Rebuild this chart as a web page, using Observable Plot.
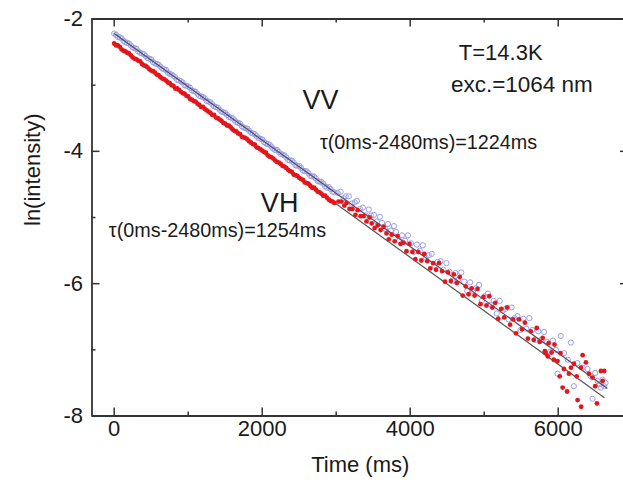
<!DOCTYPE html>
<html><head><meta charset="utf-8">
<script src="https://cdn.jsdelivr.net/npm/d3@7"></script>
<script src="https://cdn.jsdelivr.net/npm/@observablehq/plot@0.6"></script>
<style>html,body{margin:0;padding:0;background:#fff;overflow:hidden}</style>
</head><body><div id="chart"></div>
<script>
// VH (red filled dots): [time ms, ln(intensity)]
const vhEarly = [
[0,-2.37],[25,-2.40],[50,-2.40],[75,-2.42],[100,-2.46],[125,-2.48],[150,-2.49],[175,-2.51],[200,-2.52],[225,-2.55],[250,-2.58],[275,-2.60],
[300,-2.61],[325,-2.63],[350,-2.64],[375,-2.68],[400,-2.70],[425,-2.71],[450,-2.73],[475,-2.76],[500,-2.78],[525,-2.79],[550,-2.81],[575,-2.84],
[600,-2.85],[625,-2.88],[650,-2.90],[675,-2.91],[700,-2.93],[725,-2.96],[750,-2.97],[775,-3.00],[800,-3.01],[825,-3.05],[850,-3.05],[875,-3.07],
[900,-3.10],[925,-3.12],[950,-3.13],[975,-3.16],[1000,-3.17],[1025,-3.21],[1050,-3.22],[1075,-3.24],[1100,-3.25],[1125,-3.28],[1150,-3.30],[1175,-3.33],
[1200,-3.33],[1225,-3.36],[1250,-3.38],[1275,-3.40],[1300,-3.42],[1325,-3.45],[1350,-3.45],[1375,-3.49],[1400,-3.50],[1425,-3.52],[1450,-3.54],[1475,-3.57],
[1500,-3.58],[1525,-3.61],[1550,-3.61],[1575,-3.64],[1600,-3.67],[1625,-3.69],[1650,-3.70],[1675,-3.73],[1700,-3.74],[1725,-3.78],[1750,-3.79],[1775,-3.80],
[1800,-3.82],[1825,-3.85],[1850,-3.87],[1875,-3.89],[1900,-3.90],[1925,-3.94],[1950,-3.95],[1975,-3.97],[2000,-3.99],[2025,-4.01],[2050,-4.02],[2075,-4.06],
[2100,-4.08],[2125,-4.09],[2150,-4.11],[2175,-4.14],[2200,-4.16],[2225,-4.17],[2250,-4.19],[2275,-4.22],[2300,-4.23],[2325,-4.25],[2350,-4.28],[2375,-4.30],
[2400,-4.31],[2425,-4.35],[2450,-4.36],[2475,-4.37],[2500,-4.40],[2525,-4.42],[2550,-4.43],[2575,-4.47],[2600,-4.48],[2625,-4.49],[2650,-4.52],[2675,-4.55],
[2700,-4.55],[2725,-4.58],[2750,-4.61],[2775,-4.62],[2800,-4.64],[2825,-4.67],[2850,-4.67],[2875,-4.70],[2900,-4.73],[2925,-4.75],[2950,-4.76],[2975,-4.78]
];
const vhLate = [
[3030,-4.76],[3070,-4.76],[3110,-4.82],[3140,-4.78],[3180,-4.87],[3220,-4.87],[3260,-4.96],[3290,-4.89],[3330,-4.98],[3370,-4.98],
[3410,-5.06],[3450,-5.00],[3480,-5.09],[3520,-5.16],[3560,-5.12],[3600,-5.19],[3640,-5.14],[3680,-5.24],[3710,-5.33],[3750,-5.26],
[3790,-5.36],[3830,-5.28],[3870,-5.40],[3910,-5.38],[3950,-5.51],[3990,-5.40],[4030,-5.52],[4070,-5.63],[4110,-5.52],[4150,-5.65],
[4190,-5.55],[4230,-5.66],[4270,-5.77],[4310,-5.69],[4350,-5.79],[4390,-5.69],[4430,-5.81],[4470,-5.97],[4510,-5.83],[4550,-5.96],
[4590,-5.86],[4630,-5.99],[4670,-5.90],[4710,-6.18],[4750,-6.04],[4790,-6.16],[4830,-6.07],[4870,-6.18],[4910,-6.08],[4950,-6.31],
[4990,-6.20],[5030,-6.33],[5070,-6.19],[5110,-6.36],[5150,-6.29],[5190,-6.53],[5230,-6.38],[5270,-6.51],[5310,-6.36],[5350,-6.62],
[5390,-6.54],[5430,-6.75],[5470,-6.54],[5510,-6.69],[5550,-6.59],[5590,-6.83],[5630,-6.72],[5670,-6.85],[5710,-6.67],[5750,-6.88],
[5790,-6.82],[5820,-7.02],[5830,-7.05],[5860,-7.10],[5870,-6.90],[5910,-7.04],[5940,-7.15],[5950,-6.92],
[5991,-7.17],[6020,-7.40],[6030,-7.05],[6060,-7.57],[6077,-7.29],[6120,-7.63],[6145,-7.36],[6172,-7.27],[6212,-7.21],[6250,-7.40],
[6262,-7.76],[6307,-7.27],[6310,-7.86],[6330,-7.08],[6374,-7.19],[6415,-7.36],[6464,-7.42],[6500,-7.55],[6523,-7.81],[6577,-7.32],
[6600,-7.47],[6622,-7.32]
];
// VV (blue open circles): [time ms, ln(intensity)]
const vvEarly = [
[0,-2.22],[25,-2.24],[50,-2.27],[75,-2.28],[100,-2.29],[125,-2.33],[150,-2.35],[175,-2.36],[200,-2.37],[225,-2.40],[250,-2.43],[275,-2.44],
[300,-2.45],[325,-2.49],[350,-2.51],[375,-2.52],[400,-2.53],[425,-2.56],[450,-2.59],[475,-2.60],[500,-2.61],[525,-2.65],[550,-2.67],[575,-2.68],
[600,-2.69],[625,-2.72],[650,-2.75],[675,-2.76],[700,-2.77],[725,-2.81],[750,-2.83],[775,-2.84],[800,-2.86],[825,-2.88],[850,-2.92],[875,-2.93],
[900,-2.94],[925,-2.96],[950,-3.00],[975,-3.01],[1000,-3.02],[1025,-3.04],[1050,-3.08],[1075,-3.09],[1100,-3.10],[1125,-3.13],[1150,-3.16],[1175,-3.17],
[1200,-3.18],[1225,-3.20],[1250,-3.24],[1275,-3.25],[1300,-3.26],[1325,-3.29],[1350,-3.32],[1375,-3.33],[1400,-3.34],[1425,-3.37],[1450,-3.40],[1475,-3.41],
[1500,-3.42],[1525,-3.45],[1550,-3.48],[1575,-3.49],[1600,-3.50],[1625,-3.53],[1650,-3.56],[1675,-3.57],[1700,-3.58],[1725,-3.62],[1750,-3.64],[1775,-3.65],
[1800,-3.66],[1825,-3.69],[1850,-3.72],[1875,-3.73],[1900,-3.74],[1925,-3.77],[1950,-3.80],[1975,-3.81],[2000,-3.82],[2025,-3.86],[2050,-3.88],[2075,-3.89],
[2100,-3.90],[2125,-3.93],[2150,-3.96],[2175,-3.98],[2200,-3.98],[2225,-4.01],[2250,-4.04],[2275,-4.05],[2300,-4.06],[2325,-4.09],[2350,-4.13],[2375,-4.14],
[2400,-4.14],[2425,-4.17],[2450,-4.21],[2475,-4.22],[2500,-4.22],[2525,-4.25],[2550,-4.29],[2575,-4.30],[2600,-4.30],[2625,-4.33],[2650,-4.37],[2675,-4.38],
[2700,-4.38],[2725,-4.41],[2750,-4.45],[2775,-4.46],[2800,-4.46],[2825,-4.49],[2850,-4.53],[2875,-4.55],[2900,-4.54],[2925,-4.57],[2950,-4.61],[2975,-4.62]
];
const vvLate = [
[3020,-4.63],[3060,-4.61],[3100,-4.71],[3130,-4.68],[3170,-4.68],[3210,-4.79],[3250,-4.77],[3280,-4.75],[3320,-4.87],[3360,-4.85],
[3400,-4.97],[3440,-4.88],[3470,-4.97],[3510,-4.96],[3550,-5.06],[3590,-4.99],[3620,-5.08],[3660,-5.17],[3700,-5.10],[3740,-5.20],
[3780,-5.13],[3810,-5.22],[3850,-5.35],[3890,-5.27],[3930,-5.35],[3970,-5.27],[4010,-5.39],[4050,-5.52],[4090,-5.41],[4130,-5.50],
[4170,-5.42],[4210,-5.61],[4250,-5.57],[4290,-5.55],[4330,-5.73],[4370,-5.67],[4410,-5.66],[4450,-5.79],[4490,-5.69],[4530,-5.82],
[4570,-5.96],[4610,-5.84],[4650,-5.94],[4690,-5.83],[4730,-5.97],[4770,-6.11],[4810,-5.98],[4850,-6.11],[4890,-6.07],[4930,-6.02],
[4970,-6.26],[5010,-6.19],[5050,-6.15],[5090,-6.32],[5130,-6.26],[5170,-6.45],[5210,-6.26],[5250,-6.41],[5290,-6.38],[5330,-6.54],
[5370,-6.36],[5410,-6.52],[5450,-6.49],[5490,-6.70],[5530,-6.53],[5570,-6.68],[5610,-6.52],[5650,-6.70],[5690,-6.85],[5730,-6.72],
[5770,-6.85],[5810,-6.73],[5850,-6.88],[5890,-7.03],[5930,-6.86],[5970,-7.00],
[5991,-7.36],[6034,-6.79],[6080,-7.05],[6130,-7.15],[6171,-6.89],[6212,-7.55],[6260,-7.20],[6330,-7.27],[6397,-7.29],[6440,-7.40],
[6464,-7.74],[6500,-7.35],[6532,-7.47],[6560,-7.52],[6577,-7.57],[6600,-7.45],[6622,-7.55],[6640,-7.50]
];
// Exponential-decay fit lines (endpoints)
const vvFit = [[0,-2.22],[6660,-7.58]];
const vhFit = [[0,-2.37],[6620,-7.72]];

const xMajor = [0, 2000, 4000, 6000];
const xMinor = [1000, 3000, 5000];
const yMajor = [-2, -4, -6, -8];
const yMinor = [-3, -5, -7];

const notes = [
  {t: 4657, v: -2.51, text: "T=14.3K", size: 22},
  {t: 4550, v: -2.99, text: "exc.=1064 nm", size: 22.5},
  {t: 2546, v: -3.23, text: "VV", size: 27},
  {t: 2780, v: -3.87, text: "τ(0ms-2480ms)=1224ms", size: 19.8},
  {t: 1982, v: -4.79, text: "VH", size: 27},
  {t: -72, v: -5.20, text: "τ(0ms-2480ms)=1254ms", size: 19.8}
];

const vvPoints = vvEarly.concat(vvLate);
const vhPoints = vhEarly.concat(vhLate);

const W = 623, H = 489, mL = 91.5, mR = -5, mT = 18.5, mB = 73.5;
const fw = W - mL - mR, fh = H - mT - mB;
const axisColor = "#333";
const ink = "#1a1a1a";

const chart = Plot.plot({
  width: W, height: H,
  marginLeft: mL, marginRight: mR, marginTop: mT, marginBottom: mB,
  x: {domain: [-300, 6950], axis: null},
  y: {domain: [-8, -2], axis: null},
  style: {fontFamily: "'Liberation Sans', Arial, sans-serif", overflow: "hidden", background: "#fff", color: ink},
  marks: [
    Plot.dot(vvPoints, {x: d => d[0], y: d => d[1], r: 2.6, stroke: "#9a9de8", strokeWidth: 1, fill: "none"}),
    Plot.line(vvFit, {x: d => d[0], y: d => d[1], stroke: "#4d4d5e", strokeWidth: 1.2}),
    Plot.line(vhFit, {x: d => d[0], y: d => d[1], stroke: "#555", strokeWidth: 1.2}),
    Plot.dot(vhPoints, {x: d => d[0], y: d => d[1], r: 2.4, fill: "#e3161b", stroke: "none"}),
    // frame
    Plot.ruleY([-8, -2], {stroke: axisColor, strokeWidth: 1.8}),
    Plot.ruleX([-300, 6950], {stroke: axisColor, strokeWidth: 1.8}),
    // ticks (inward)
    Plot.tickX(xMajor, {x: d => d, insetTop: fh - 8, stroke: axisColor, strokeWidth: 1.5}),
    Plot.tickX(xMinor, {x: d => d, insetTop: fh - 4, stroke: axisColor, strokeWidth: 1.5}),
    Plot.tickX(xMajor, {x: d => d, insetBottom: fh - 8, stroke: axisColor, strokeWidth: 1.5}),
    Plot.tickX(xMinor, {x: d => d, insetBottom: fh - 4, stroke: axisColor, strokeWidth: 1.5}),
    Plot.tickY(yMajor, {y: d => d, insetRight: fw - 8, stroke: axisColor, strokeWidth: 1.5}),
    Plot.tickY(yMinor, {y: d => d, insetRight: fw - 4, stroke: axisColor, strokeWidth: 1.5}),
    Plot.tickY(yMajor, {y: d => d, insetLeft: fw - 8, stroke: axisColor, strokeWidth: 1.5}),
    Plot.tickY(yMinor, {y: d => d, insetLeft: fw - 4, stroke: axisColor, strokeWidth: 1.5}),
    // tick labels
    Plot.text(xMajor, {x: d => d, frameAnchor: "bottom", dy: 20, text: d => String(d), fontSize: 22, fill: ink}),
    Plot.text(yMajor, {y: d => d, frameAnchor: "left", dx: -9, textAnchor: "end", text: d => String(d), fontSize: 22, fill: ink}),
    // axis titles
    Plot.text(["Time (ms)"], {frameAnchor: "bottom", dy: 56, text: d => d, fontSize: 22, fill: ink}),
    Plot.text(["ln(intensity)"], {frameAnchor: "left", rotate: -90, dx: -59.5, dy: 8.5, text: d => d, fontSize: 22, fill: ink}),
    // annotations
    Plot.text(notes, {x: "t", y: "v", text: "text", fontSize: d => d.size, textAnchor: "start", fill: ink})
  ]
});
document.getElementById("chart").appendChild(chart);
</script>
</body></html>
